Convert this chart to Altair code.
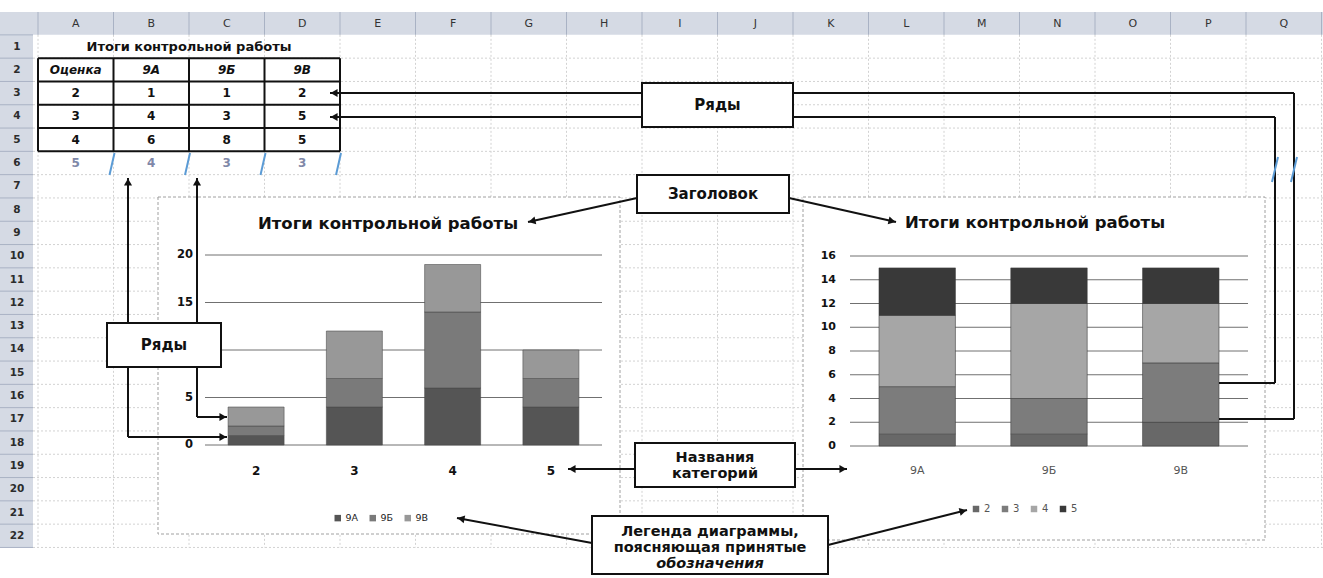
import math
import altair as alt
import pandas as pd

# ---- data: pupils per grade in each class ----
grades = ["2", "3", "4", "5"]
classes = ["9А", "9Б", "9В"]
class_9a = [1, 4, 6, 4]
class_9b = [1, 3, 8, 3]
class_9v = [2, 5, 5, 3]
chart_title = "Итоги контрольной работы"
grade_header = "Оценка"
left_ticks = [0, 5, 10, 15, 20]
right_ticks = [0, 2, 4, 6, 8, 10, 12, 14, 16]
column_letters = list("ABCDEFGHIJKLMNOPQ")
row_numbers = list(range(1, 23))

label_series = "Ряды"
label_title = "Заголовок"
label_categories = ["Названия", "категорий"]
label_legend = ["Легенда диаграммы,", "поясняющая принятые"]
label_legend_tail = "обозначения"

# ---- styles ----
class_colors = ["#555555", "#7a7a7a", "#989898"]
grade_colors = ["#686868", "#7c7c7c", "#a6a6a6", "#393939"]
FONT = "DejaVu Sans"
W, H = 1323, 578

counts = [class_9a, class_9b, class_9v]
results = pd.DataFrame([
    {"grade": g, "cls": c, "n": counts[ci][gi], "gi": gi, "ci": ci}
    for gi, g in enumerate(grades)
    for ci, c in enumerate(classes)
])

# ---- spreadsheet grid geometry ----
COL_X0, COL_W = 38.0, 75.5
ROW_Y0, ROW_H = 34.85, 23.3
HEAD_TOP = 12


def col_edge(j):
    return COL_X0 + COL_W * j


def col_mid(j):
    return COL_X0 + COL_W * (j + 0.5)


def row_edge(k):
    return ROW_Y0 + ROW_H * k


def row_mid(k):
    return ROW_Y0 + ROW_H * (k - 0.5)


PX = dict(scale=None, axis=None)


def rules(rows, **style):
    df = pd.DataFrame(rows, columns=["x", "y", "x2", "y2"])
    return alt.Chart(df).mark_rule(**style).encode(
        x=alt.X("x:Q", **PX), y=alt.Y("y:Q", **PX), x2="x2:Q", y2="y2:Q")


def rects(rows, **style):
    df = pd.DataFrame(rows, columns=["x", "x2", "y", "y2"])
    return alt.Chart(df).mark_rect(**style).encode(
        x=alt.X("x:Q", **PX), y=alt.Y("y:Q", **PX), x2="x2:Q", y2="y2:Q")


def texts(rows, **style):
    df = pd.DataFrame(rows, columns=["x", "y", "t"])
    style.setdefault("baseline", "middle")
    style.setdefault("font", FONT)
    return alt.Chart(df).mark_text(**style).encode(
        x=alt.X("x:Q", **PX), y=alt.Y("y:Q", **PX), text="t:N")


layers = []

# sheet headers
layers.append(rects([(0, W, HEAD_TOP, ROW_Y0), (0, 33, ROW_Y0, row_edge(22))],
                    color="#d5dae4"))
layers.append(rules([(col_edge(j), HEAD_TOP, col_edge(j), ROW_Y0) for j in range(18)]
                    + [(0, row_edge(k), 33, row_edge(k)) for k in range(23)],
                    color="#a9b2c4", strokeWidth=1))
# faint cell grid
layers.append(rules([(col_edge(j), ROW_Y0, col_edge(j), row_edge(22)) for j in range(18)]
                    + [(33, row_edge(k), W, row_edge(k)) for k in range(1, 23)],
                    color="#d2d2d2", strokeWidth=1, strokeDash=[2, 2]))
layers.append(texts([(col_mid(j), 24, c) for j, c in enumerate(column_letters)],
                    fontSize=11, color="#333333"))
layers.append(texts([(17, row_mid(k), str(k)) for k in row_numbers],
                    fontSize=10.5, fontWeight="bold", color="#2c2c2c"))

# chart frames
layers.append(rects([(158, 620, 197, 534), (803, 1265, 197, 540)],
                    fill="white", stroke="#a0a0a0", strokeWidth=1, strokeDash=[3, 2]))

# results table
layers.append(rules([(col_edge(0), row_edge(k), col_edge(4), row_edge(k)) for k in range(1, 6)]
                    + [(col_edge(j), row_edge(1), col_edge(j), row_edge(5)) for j in range(5)],
                    color="#111111", strokeWidth=2))
layers.append(texts([((col_edge(0) + col_edge(4)) / 2, row_mid(1), chart_title)],
                    fontSize=13, fontWeight="bold", color="#111111"))
layers.append(texts([(col_mid(0), row_mid(2), grade_header)]
                    + [(col_mid(j + 1), row_mid(2), c) for j, c in enumerate(classes)],
                    fontSize=12, fontWeight="bold", fontStyle="italic", color="#111111"))
table_rows = []
faded_rows = []
for gi, g in enumerate(grades):
    row = [(col_mid(0), row_mid(3 + gi), g)] + [
        (col_mid(ci + 1), row_mid(3 + gi), str(counts[ci][gi])) for ci in range(3)]
    (faded_rows if gi == len(grades) - 1 else table_rows).extend(row)
layers.append(texts(table_rows, fontSize=12, fontWeight="bold", color="#111111"))
layers.append(texts(faded_rows, fontSize=12, fontWeight="bold", color="#7f88a8"))

# ---- chart 1: grades on x, classes stacked ----
xl = alt.Scale(domain=grades, range=[205, 602], paddingInner=0.43, paddingOuter=0.235)
yl = alt.Scale(domain=[0, 20], range=[445, 255], nice=False)
ticks_l = pd.DataFrame({"v": left_ticks})
left_chart = alt.layer(
    alt.Chart(ticks_l).mark_rule(color="#707070", strokeWidth=1).encode(
        y=alt.Y("v:Q", scale=yl, axis=None), x=alt.value(205), x2=alt.value(602)),
    alt.Chart(results).mark_bar(stroke="#4a4a4a", strokeWidth=0.8, strokeOpacity=0.7).encode(
        x=alt.X("grade:N", scale=xl, axis=None),
        y=alt.Y("n:Q", scale=yl, axis=None, stack="zero"),
        color=alt.Color("cls:N", scale=alt.Scale(domain=classes, range=class_colors),
                        legend=alt.Legend(orient="none", legendX=333, legendY=513,
                                          direction="horizontal", columns=3, title=None,
                                          symbolType="square", symbolSize=42,
                                          symbolStrokeWidth=0, labelFont=FONT,
                                          labelFontSize=9.5, labelColor="#222222",
                                          labelOffset=3, columnPadding=9)),
        order=alt.Order("ci:Q", sort="ascending")),
    alt.Chart(ticks_l).mark_text(align="right", baseline="middle", font=FONT,
                                 fontWeight="bold", fontSize=11.5, color="#111111").encode(
        y=alt.Y("v:Q", scale=yl, axis=None), x=alt.value(193), text="v:Q"),
    alt.Chart(pd.DataFrame({"grade": grades})).mark_text(
        baseline="middle", font=FONT, fontWeight="bold", fontSize=12, color="#111111").encode(
        x=alt.X("grade:N", scale=xl, axis=None), y=alt.value(471), text="grade:N"),
    alt.Chart(pd.DataFrame({"t": [chart_title]})).mark_text(
        baseline="middle", font=FONT, fontWeight="bold", fontSize=16.5, color="#111111").encode(
        x=alt.value(388), y=alt.value(224), text="t:N"),
)

# ---- chart 2: classes on x, grades stacked ----
xr = alt.Scale(domain=classes, range=[850, 1248], paddingInner=0.42, paddingOuter=0.22)
yr = alt.Scale(domain=[0, 16], range=[446, 256], nice=False)
ticks_r = pd.DataFrame({"v": right_ticks})
right_chart = alt.layer(
    alt.Chart(ticks_r).mark_rule(color="#707070", strokeWidth=1).encode(
        y=alt.Y("v:Q", scale=yr, axis=None), x=alt.value(850), x2=alt.value(1248)),
    alt.Chart(results).mark_bar(stroke="#3a3a3a", strokeWidth=0.8, strokeOpacity=0.7).encode(
        x=alt.X("cls:N", scale=xr, axis=None),
        y=alt.Y("n:Q", scale=yr, axis=None, stack="zero"),
        color=alt.Color("grade:N", scale=alt.Scale(domain=grades, range=grade_colors),
                        legend=alt.Legend(orient="none", legendX=971, legendY=504,
                                          direction="horizontal", columns=4, title=None,
                                          symbolType="square", symbolSize=42,
                                          symbolStrokeWidth=0, labelFont=FONT,
                                          labelFontSize=10, labelColor="#555555",
                                          labelOffset=3, columnPadding=9)),
        order=alt.Order("gi:Q", sort="ascending")),
    alt.Chart(ticks_r).mark_text(align="right", baseline="middle", font=FONT,
                                 fontWeight="bold", fontSize=11, color="#111111").encode(
        y=alt.Y("v:Q", scale=yr, axis=None), x=alt.value(836), text="v:Q"),
    alt.Chart(pd.DataFrame({"cls": classes})).mark_text(
        baseline="middle", font=FONT, fontSize=11, color="#555555").encode(
        x=alt.X("cls:N", scale=xr, axis=None), y=alt.value(471), text="cls:N"),
    alt.Chart(pd.DataFrame({"t": [chart_title]})).mark_text(
        baseline="middle", font=FONT, fontWeight="bold", fontSize=16.5, color="#111111").encode(
        x=alt.value(1035), y=alt.value(223), text="t:N"),
)
layers += [left_chart, right_chart]

# ---- callouts ----
paths = [
    ([(793, 93), (1294, 93), (1294, 419), (1219, 419)], False),
    ([(793, 117), (1275, 117), (1275, 383), (1219, 383)], False),
    ([(642, 93), (330, 93)], True),
    ([(642, 117), (330, 117)], True),
    ([(128, 323), (128, 178)], True),
    ([(197, 323), (197, 178)], True),
    ([(128, 367), (128, 437), (227, 437)], True),
    ([(197, 367), (197, 417), (227, 417)], True),
    ([(637, 198), (528, 222)], True),
    ([(789, 198), (896, 222)], True),
    ([(635, 469), (568, 469)], True),
    ([(795, 469), (847, 469)], True),
    ([(592, 543), (457, 518)], True),
    ([(828, 545), (967, 510)], True),
]
HEAD = 66
head_r = math.sqrt(HEAD) / 2
segs, heads = [], []
for pts, has_head in paths:
    for (ax, ay), (bx, by) in zip(pts[:-1], pts[1:]):
        segs.append((ax, ay, bx, by))
    if has_head:
        (ax, ay), (bx, by) = pts[-2], pts[-1]
        d = math.hypot(bx - ax, by - ay)
        ux, uy = (bx - ax) / d, (by - ay) / d
        ang = math.degrees(math.atan2(ux, -uy)) % 360
        heads.append({"x": bx - ux * head_r, "y": by - uy * head_r, "a": ang})

layers.append(rules(segs, color="#111111", strokeWidth=2))
layers.append(alt.Chart(pd.DataFrame(heads)).mark_point(
    shape="triangle-up", filled=True, color="#111111", opacity=1, size=HEAD).encode(
    x=alt.X("x:Q", **PX), y=alt.Y("y:Q", **PX), angle=alt.Angle("a:Q", scale=None)))

# selection marks on row 6
layers.append(rules([(col_edge(j) - 4, 175, col_edge(j) + 1, 153) for j in range(1, 5)]
                    + [(1272, 182, 1278, 157), (1291, 182, 1297, 157)],
                    color="#5b9bd5", strokeWidth=2))

boxes = [(642, 793, 83, 127), (107, 221, 323, 367), (637, 789, 175, 213),
         (635, 795, 443, 487), (592, 828, 516, 574)]
layers.append(rects(boxes, fill="white", stroke="#111111", strokeWidth=2))
layers.append(texts([(717.5, 105, label_series), (164, 345, label_series),
                     (713, 194, label_title)],
                    fontSize=15, fontWeight="bold", color="#111111"))
layers.append(texts([(715, 458, label_categories[0]), (715, 474, label_categories[1]),
                     (710, 532, label_legend[0]), (710, 548, label_legend[1])],
                    fontSize=14.5, fontWeight="bold", color="#111111"))
layers.append(texts([(710, 564, label_legend_tail)],
                    fontSize=14.5, fontWeight="bold", fontStyle="italic", color="#111111"))

chart = alt.layer(*layers).resolve_scale(
    x="independent", y="independent", color="independent"
).properties(
    width=W, height=H, padding=0, autosize="none", background="white"
).configure_view(stroke=None)

chart.save("out.html", embed_options={"renderer": "svg", "actions": False})
